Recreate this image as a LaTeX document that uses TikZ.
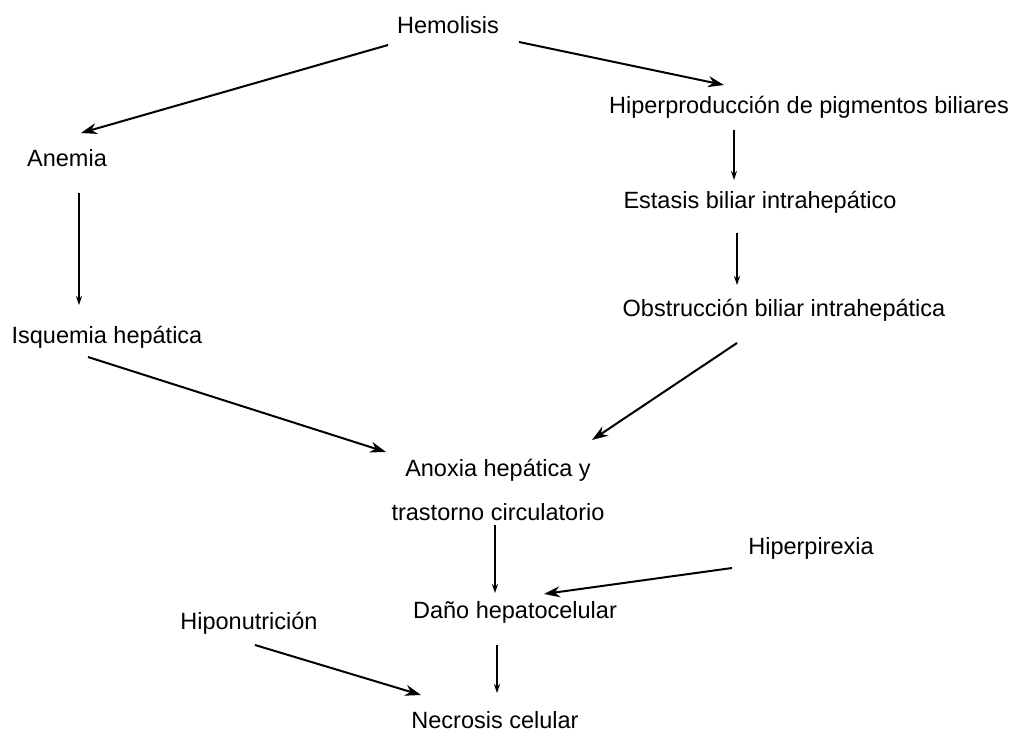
\documentclass[tikz,border=0pt]{standalone}
\usepackage{fontspec}
\setmainfont{Liberation Sans}
\usetikzlibrary{arrows.meta}

\begin{document}
\begin{tikzpicture}[x=1pt,y=-1pt,
    every node/.style={inner sep=0pt,font=\fontsize{23.5}{28}\selectfont},
    heavy/.style={line width=2pt,-{Stealth[length=16pt,width=11pt]}},
    light/.style={line width=1.1pt,-{Stealth[length=9pt,width=6pt]}}]

  \useasboundingbox (0,0) rectangle (1019,736);

  % boxes
  \node (hem) at (448,25) {Hemolisis};
  \node (ane) at (67,158) {Anemia};
  \node (hip) at (809,107) {Hiperproducción de pigmentos biliares};
  \node (est) at (760,202) {Estasis biliar intrahepático};
  \node (obs) at (784,310) {Obstrucción biliar intrahepática};
  \node (isq) at (107,337) {Isquemia hepática};
  \node[align=center] (anox) at (498,490)
    {Anoxia hepática y\\[16pt]trastorno circulatorio};
  \node (hipx) at (811,548) {Hiperpirexia};
  \node (dano) at (515,612) {Daño hepatocelular};
  \node (hipo) at (249,623) {Hiponutrición};
  \node (nec) at (495,720) {Necrosis celular};

  % left branch
  \draw[heavy] ([shift={(-60,20)}]hem.center) -- ([shift={(14,-25)}]ane.center);
  \draw[light] ([shift={(12,35)}]ane.center) -- ([shift={(-28,-32)}]isq.center);
  \draw[heavy] ([shift={(-19,20)}]isq.center) -- ([shift={(-112,-38)}]anox.center);

  % right branch
  \draw[heavy] ([shift={(71,17)}]hem.center) -- ([shift={(-85,-22)}]hip.center);
  \draw[light] ([shift={(-75,23)}]hip.center) -- ([shift={(-26,-22)}]est.center);
  \draw[light] ([shift={(-23,31)}]est.center) -- ([shift={(-47,-25)}]obs.center);
  \draw[heavy] ([shift={(-47,33)}]obs.center) -- ([shift={(94,-50)}]anox.center);

  % bottom
  \draw[light] ([shift={(-3,35)}]anox.center) -- ([shift={(-20,-19)}]dano.center);
  \draw[heavy] ([shift={(-79,20)}]hipx.center) -- ([shift={(29,-18)}]dano.center);
  \draw[light] ([shift={(-18,33)}]dano.center) -- ([shift={(2,-27)}]nec.center);
  \draw[heavy] ([shift={(6,22)}]hipo.center) -- ([shift={(-74,-25)}]nec.center);

\end{tikzpicture}
\end{document}
